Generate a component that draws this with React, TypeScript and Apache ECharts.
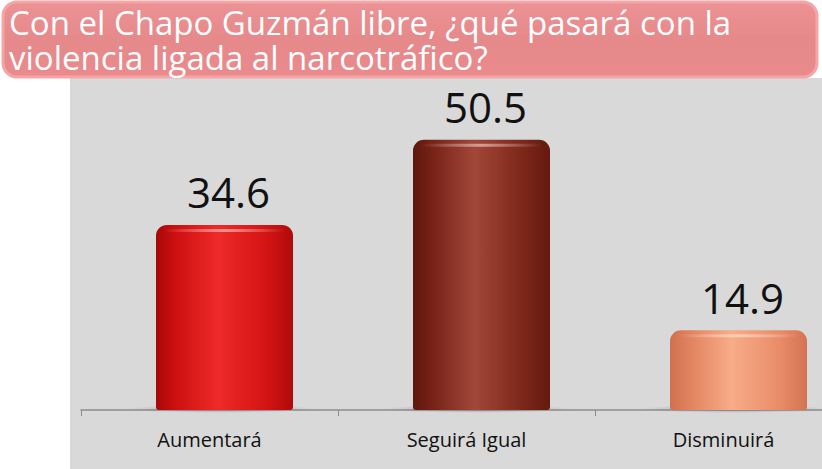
import React, { useEffect, useRef } from "react";
import * as echarts from "echarts";

const categories = ["Aumentará", "Seguirá Igual", "Disminuirá"];
const values = [34.6, 50.5, 14.9];
const titleLines = [
  "Con el Chapo Guzmán libre, ¿qué pasará con la",
  "violencia ligada al narcotráfico?",
];
const barPalettes = [
  ["#a50808", "#cf1010", "#ee2a2a", "#d51414", "#b00a0a"],
  ["#5e170d", "#782318", "#a2473a", "#7c2719", "#65190f"],
  ["#cf7050", "#e2845f", "#f8ac88", "#e98c68", "#d37353"],
];

export default function App() {
  const ref = useRef<HTMLDivElement>(null);
  useEffect(() => {
    document.body.style.overflow = "hidden";
    const chart = echarts.init(ref.current!, null, { renderer: "svg" });
    const font = "'Open Sans', 'Noto Sans', sans-serif";
    chart.setOption({
      animation: false,
      backgroundColor: "#ffffff",
      grid: { left: 81, top: 89, width: 771, height: 321 },
      xAxis: {
        type: "category",
        data: categories,
        axisLine: { lineStyle: { color: "#8c8c8c", width: 1.5 } },
        axisTick: { show: true, length: 6, lineStyle: { color: "#8c8c8c" } },
        axisLabel: { color: "#111", fontSize: 20, fontFamily: font, margin: 19 },
      },
      yAxis: { type: "value", min: 0, max: 60, show: false, splitLine: { show: false } },
      graphic: [
        {
          type: "rect",
          z: -10,
          shape: { x: 70, y: 78, width: 752, height: 391 },
          style: { fill: "#d9d9d9" },
        },
        {
          type: "rect",
          z: 10,
          shape: { x: 3, y: 2, width: 814, height: 75, r: 14 },
          style: {
            fill: new echarts.graphic.LinearGradient(0, 0, 0, 1, [
              { offset: 0, color: "#ed9294" },
              { offset: 0.5, color: "#e5898b" },
              { offset: 1, color: "#ea8a8c" },
            ]),
            stroke: "#f6a5a6",
            lineWidth: 3,
          },
        },
        {
          type: "text",
          z: 11,
          x: 9,
          y: 5,
          style: {
            text: titleLines.join("\n"),
            fill: "#ffffff",
            font: `33px ${font}`,
            lineHeight: 35,
          },
        },
      ],
      series: [
        {
          type: "custom",
          data: values.map((v, i) => [i, v]),
          renderItem: (params: any, api: any) => {
            const idx = params.dataIndex;
            const v = api.value(1);
            const base = api.coord([api.value(0), 0]);
            const top = api.coord([api.value(0), v]);
            const bw = 137;
            const cx = base[0] + 15;
            const pal = barPalettes[idx];
            const x0 = cx - bw / 2;
            const h = base[1] - top[1];
            return {
              type: "group",
              children: [
                {
                  type: "ellipse",
                  shape: { cx: cx - 4, cy: base[1] - 1, rx: bw / 2 + 28, ry: 4 },
                  style: {
                    fill: new echarts.graphic.RadialGradient(0.5, 0.5, 0.5, [
                      { offset: 0, color: "rgba(90,90,90,0.55)" },
                      { offset: 1, color: "rgba(120,120,120,0)" },
                    ]),
                  },
                },
                {
                  type: "rect",
                  shape: { x: x0, y: top[1], width: bw, height: h, r: [11, 11, 3, 3] },
                  style: {
                    fill: new echarts.graphic.LinearGradient(0, 0, 1, 0, [
                      { offset: 0, color: pal[0] },
                      { offset: 0.15, color: pal[1] },
                      { offset: 0.45, color: pal[2] },
                      { offset: 0.8, color: pal[3] },
                      { offset: 1, color: pal[4] },
                    ]),
                  },
                },
                {
                  type: "rect",
                  shape: { x: x0 + 8, y: top[1] + 4, width: bw - 16, height: 3, r: 1.5 },
                  style: {
                    fill: new echarts.graphic.LinearGradient(0, 0, 1, 0, [
                      { offset: 0, color: "rgba(255,255,255,0)" },
                      { offset: 0.5, color: "rgba(255,235,225,0.55)" },
                      { offset: 1, color: "rgba(255,255,255,0)" },
                    ]),
                  },
                },
                {
                  type: "text",
                  style: {
                    text: String(v),
                    x: cx + 4,
                    y: top[1] - 12,
                    align: "center",
                    verticalAlign: "bottom",
                    fill: "#111",
                    font: `42px ${font}`,
                  },
                },
              ],
            };
          },
        },
      ],
    });
    return () => chart.dispose();
  }, []);
  return (
    <div
      ref={ref}
      style={{ position: "fixed", left: 0, top: 0, width: 870, height: 469 }}
    />
  );
}
